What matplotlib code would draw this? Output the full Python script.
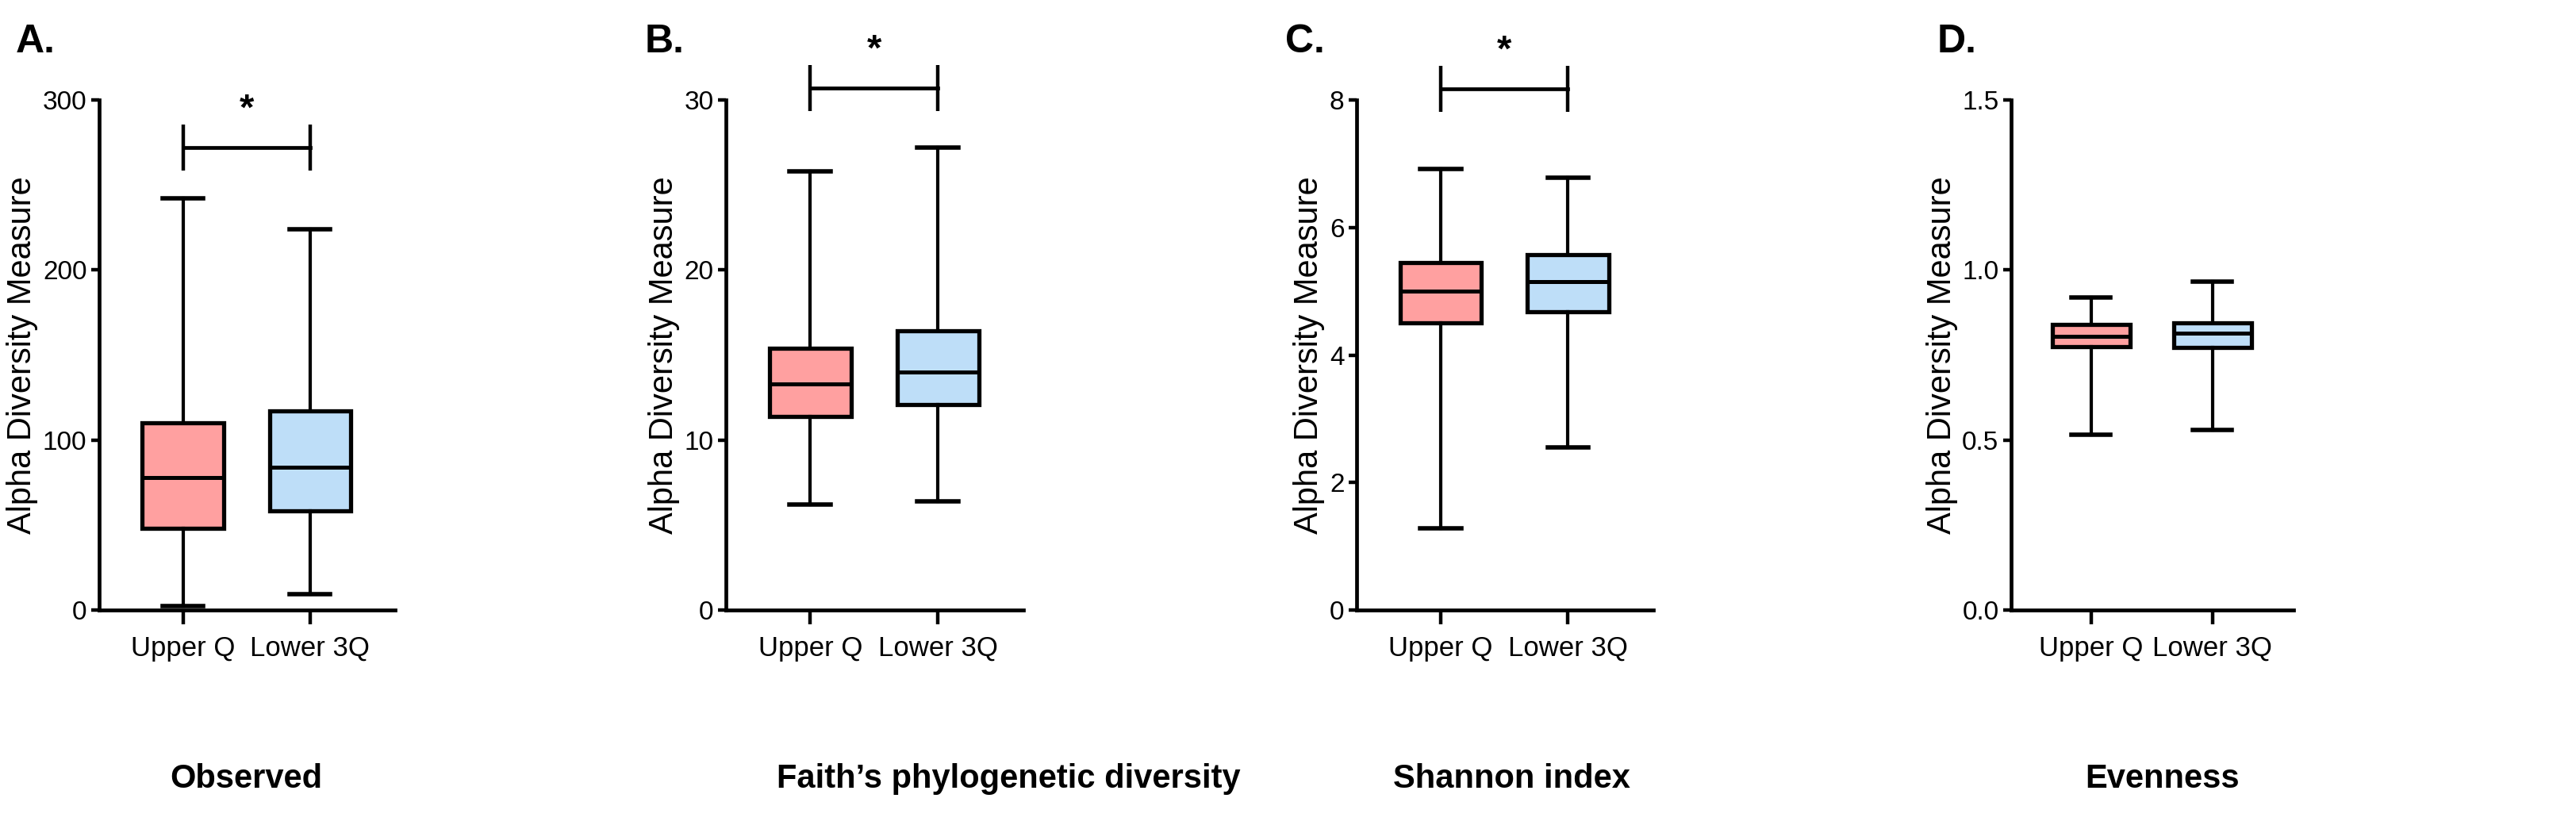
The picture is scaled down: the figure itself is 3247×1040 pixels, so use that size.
import matplotlib.pyplot as plt

# categories and labels
groups = ["Upper Q", "Lower 3Q"]
panel_letters = ["A.", "B.", "C.", "D."]
metric_names = ["Observed", "Faith\u2019s phylogenetic diversity", "Shannon index", "Evenness"]

# whisker low, q1, median, q3, whisker high
observed_upper = [2.5, 48, 78, 110, 242]
observed_lower = [9.5, 58.5, 84, 117, 224]
faith_upper = [6.2, 11.4, 13.3, 15.4, 25.8]
faith_lower = [6.4, 12.1, 14.0, 16.4, 27.2]
shannon_upper = [1.28, 4.5, 5.0, 5.45, 6.92]
shannon_lower = [2.55, 4.68, 5.15, 5.57, 6.78]
evenness_upper = [0.516, 0.775, 0.805, 0.84, 0.918]
evenness_lower = [0.53, 0.772, 0.813, 0.845, 0.965]

y_max = [300, 30, 8, 1.5]
y_ticks = [[0, 100, 200, 300], [0, 10, 20, 30], [0, 2, 4, 6, 8], [0.0, 0.5, 1.0, 1.5]]
y_fmt = ["{:.0f}", "{:.0f}", "{:.0f}", "{:.1f}"]
sig_y = [272, 30.7, 8.18, None]

panels = [(observed_upper, observed_lower), (faith_upper, faith_lower),
          (shannon_upper, shannon_lower), (evenness_upper, evenness_lower)]

box_colors = ["#FFA0A0", "#BEDEF8"]
plt.rcParams['font.family'] = ["Liberation Sans", "DejaVu Sans"]

W, H = 3247, 1040
fig = plt.figure(figsize=(W / 200, H / 200), dpi=200)

# layout in pixels
ax_left = [125, 915, 1710, 2535]
ax_right = [498, 1290, 2084, 2891]
ax_top, ax_bottom = 126, 769
title_x = [310, 1271, 1905, 2726]
letter_x = [20, 813, 1620, 2442]

for i in range(4):
    w = (ax_right[i] - ax_left[i]) / W
    ax = fig.add_axes([ax_left[i] / W, 1 - ax_bottom / H, w, (ax_bottom - ax_top) / H])
    stats = []
    for g, vals in zip(groups, panels[i]):
        stats.append(dict(label=g, whislo=vals[0], q1=vals[1], med=vals[2],
                          q3=vals[3], whishi=vals[4], fliers=[]))
    bp = ax.bxp(stats, positions=[1, 2], widths=0.64, capwidths=0.32,
                showfliers=False, patch_artist=True,
                boxprops=dict(edgecolor="black", linewidth=1.9),
                medianprops=dict(color="black", linewidth=1.8),
                whiskerprops=dict(color="black", linewidth=1.5),
                capprops=dict(color="black", linewidth=2.0))
    for patch, c in zip(bp['boxes'], box_colors):
        patch.set_facecolor(c)

    ax.set_xlim(0.34, 2.67)
    ax.set_ylim(0, y_max[i])
    ax.set_yticks(y_ticks[i])
    ax.set_yticklabels([y_fmt[i].format(t) for t in y_ticks[i]])
    ax.set_xticks([1, 2])
    ax.set_xticklabels(groups)
    for s in ["top", "right"]:
        ax.spines[s].set_visible(False)
    for s in ["left", "bottom"]:
        ax.spines[s].set_linewidth(1.7)
    ax.tick_params(axis='y', length=3.6, width=1.6, pad=2, labelsize=12)
    ax.tick_params(axis='x', length=6.5, width=1.6, pad=5, labelsize=12.5)

    ax.set_ylabel("Alpha Diversity Measure", fontsize=15, labelpad=2)

    if sig_y[i] is not None:
        ax.plot([1, 2], [sig_y[i], sig_y[i]], color="black", lw=1.7, clip_on=False)
        ax.plot([1, 2], [sig_y[i], sig_y[i]], ls="none", marker="|", ms=21, mew=1.6,
                color="black", clip_on=False)
        ax.annotate("*", xy=(1.5, sig_y[i]), xytext=(0, 9), textcoords="offset points",
                    ha="center", va="bottom", fontsize=17, fontweight="bold",
                    annotation_clip=False)

    fig.text(title_x[i] / W, 1 - 993 / H, metric_names[i], ha="center", va="baseline",
             fontsize=15, fontweight="bold")
    fig.text(letter_x[i] / W, 1 - 66 / H, panel_letters[i], ha="left", va="baseline",
             fontsize=18, fontweight="bold")

fig.savefig("out.png", dpi=200, facecolor="white")
